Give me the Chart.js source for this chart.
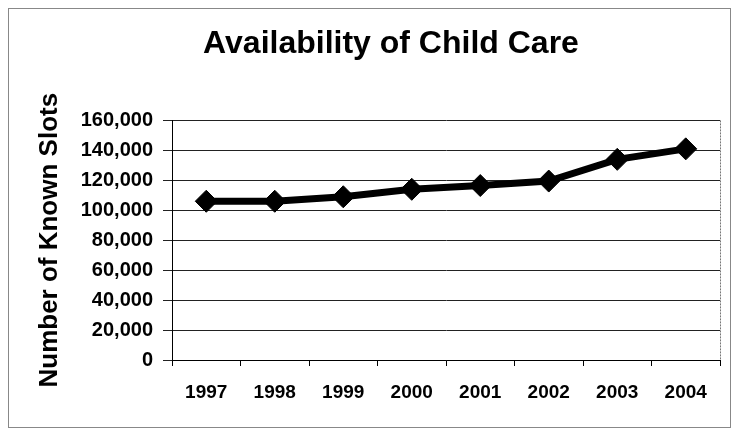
<!DOCTYPE html>
<html>
<head>
<meta charset="utf-8">
<script src="https://cdn.jsdelivr.net/npm/chart.js@4"></script>
<style>
  html, body { margin: 0; padding: 0; background: #fff; }
  #wrap { width: 734px; height: 432px; }
</style>
</head>
<body>
<div id="wrap"><canvas id="chart" width="734" height="432"></canvas></div>
<script>
const years = ["1997", "1998", "1999", "2000", "2001", "2002", "2003", "2004"];
const slots = [106000, 106000, 109000, 114000, 116500, 119500, 134000, 141000];
const yMin = 0;
const yMax = 160000;
const yStep = 20000;

// frame around the whole chart + dotted right edge of the plot area
const framePlugin = {
  id: 'frame',
  beforeDraw(chart) {
    const c = chart.ctx;
    c.save();
    c.fillStyle = '#fff';
    c.fillRect(0, 0, chart.width, chart.height);
    c.strokeStyle = '#888';
    c.lineWidth = 1;
    c.strokeRect(8.5, 8.5, 722, 419);
    c.restore();
  },
  afterDraw(chart) {
    const a = chart.chartArea;
    const c = chart.ctx;
    c.save();
    c.strokeStyle = '#777';
    c.lineWidth = 1;
    c.setLineDash([2, 1]);
    c.beginPath();
    c.moveTo(Math.round(a.right) + 0.5, a.top);
    c.lineTo(Math.round(a.right) + 0.5, a.bottom);
    c.stroke();
    c.restore();
  }
};

const ctx = document.getElementById('chart').getContext('2d');
new Chart(ctx, {
  type: 'line',
  data: {
    labels: years,
    datasets: [{
      data: slots,
      borderColor: '#000',
      backgroundColor: '#000',
      borderWidth: 7,
      tension: 0,
      pointStyle: 'rectRot',
      pointRadius: 11,
      pointHoverRadius: 11,
      pointBackgroundColor: '#000',
      pointBorderColor: '#000',
      pointBorderWidth: 1
    }]
  },
  plugins: [framePlugin],
  options: {
    responsive: false,
    animation: false,
    events: [],
    // left padding shifts the title centre to the right like the original
    layout: { padding: { left: 62, right: 14, top: 0, bottom: 0 } },
    plugins: {
      legend: { display: false },
      tooltip: { enabled: false },
      title: {
        display: true,
        text: 'Availability of Child Care',
        color: '#000',
        font: { family: 'Liberation Sans, Arial, sans-serif', size: 32, weight: 'bold' },
        padding: { top: 25, bottom: 57 }
      }
    },
    scales: {
      x: {
        offset: true,
        afterFit(scale) { scale.height = 72; },
        grid: {
          offset: true,
          drawOnChartArea: false,
          drawTicks: true,
          tickLength: 6,
          color: '#000'
        },
        border: { display: true, color: '#000', width: 1 },
        ticks: {
          color: '#000',
          padding: 15,
          maxRotation: 0,
          font: { family: 'Liberation Sans, Arial, sans-serif', size: 19, weight: 'bold' }
        }
      },
      y: {
        min: yMin,
        max: yMax,
        afterFit(scale) { scale.width = 110; },
        grid: {
          color: '#222',
          lineWidth: 1,
          tickLength: 9
        },
        border: { display: true, color: '#000', width: 1 },
        ticks: {
          stepSize: yStep,
          color: '#000',
          padding: 10,
          font: { family: 'Liberation Sans, Arial, sans-serif', size: 20, weight: 'bold' },
          callback: v => v.toLocaleString('en-US')
        },
        title: {
          display: true,
          text: 'Number of Known Slots',
          color: '#000',
          padding: { top: -28, bottom: 0 },
          font: { family: 'Liberation Sans, Arial, sans-serif', size: 26, weight: 'bold' }
        }
      }
    }
  }
});
</script>
</body>
</html>
